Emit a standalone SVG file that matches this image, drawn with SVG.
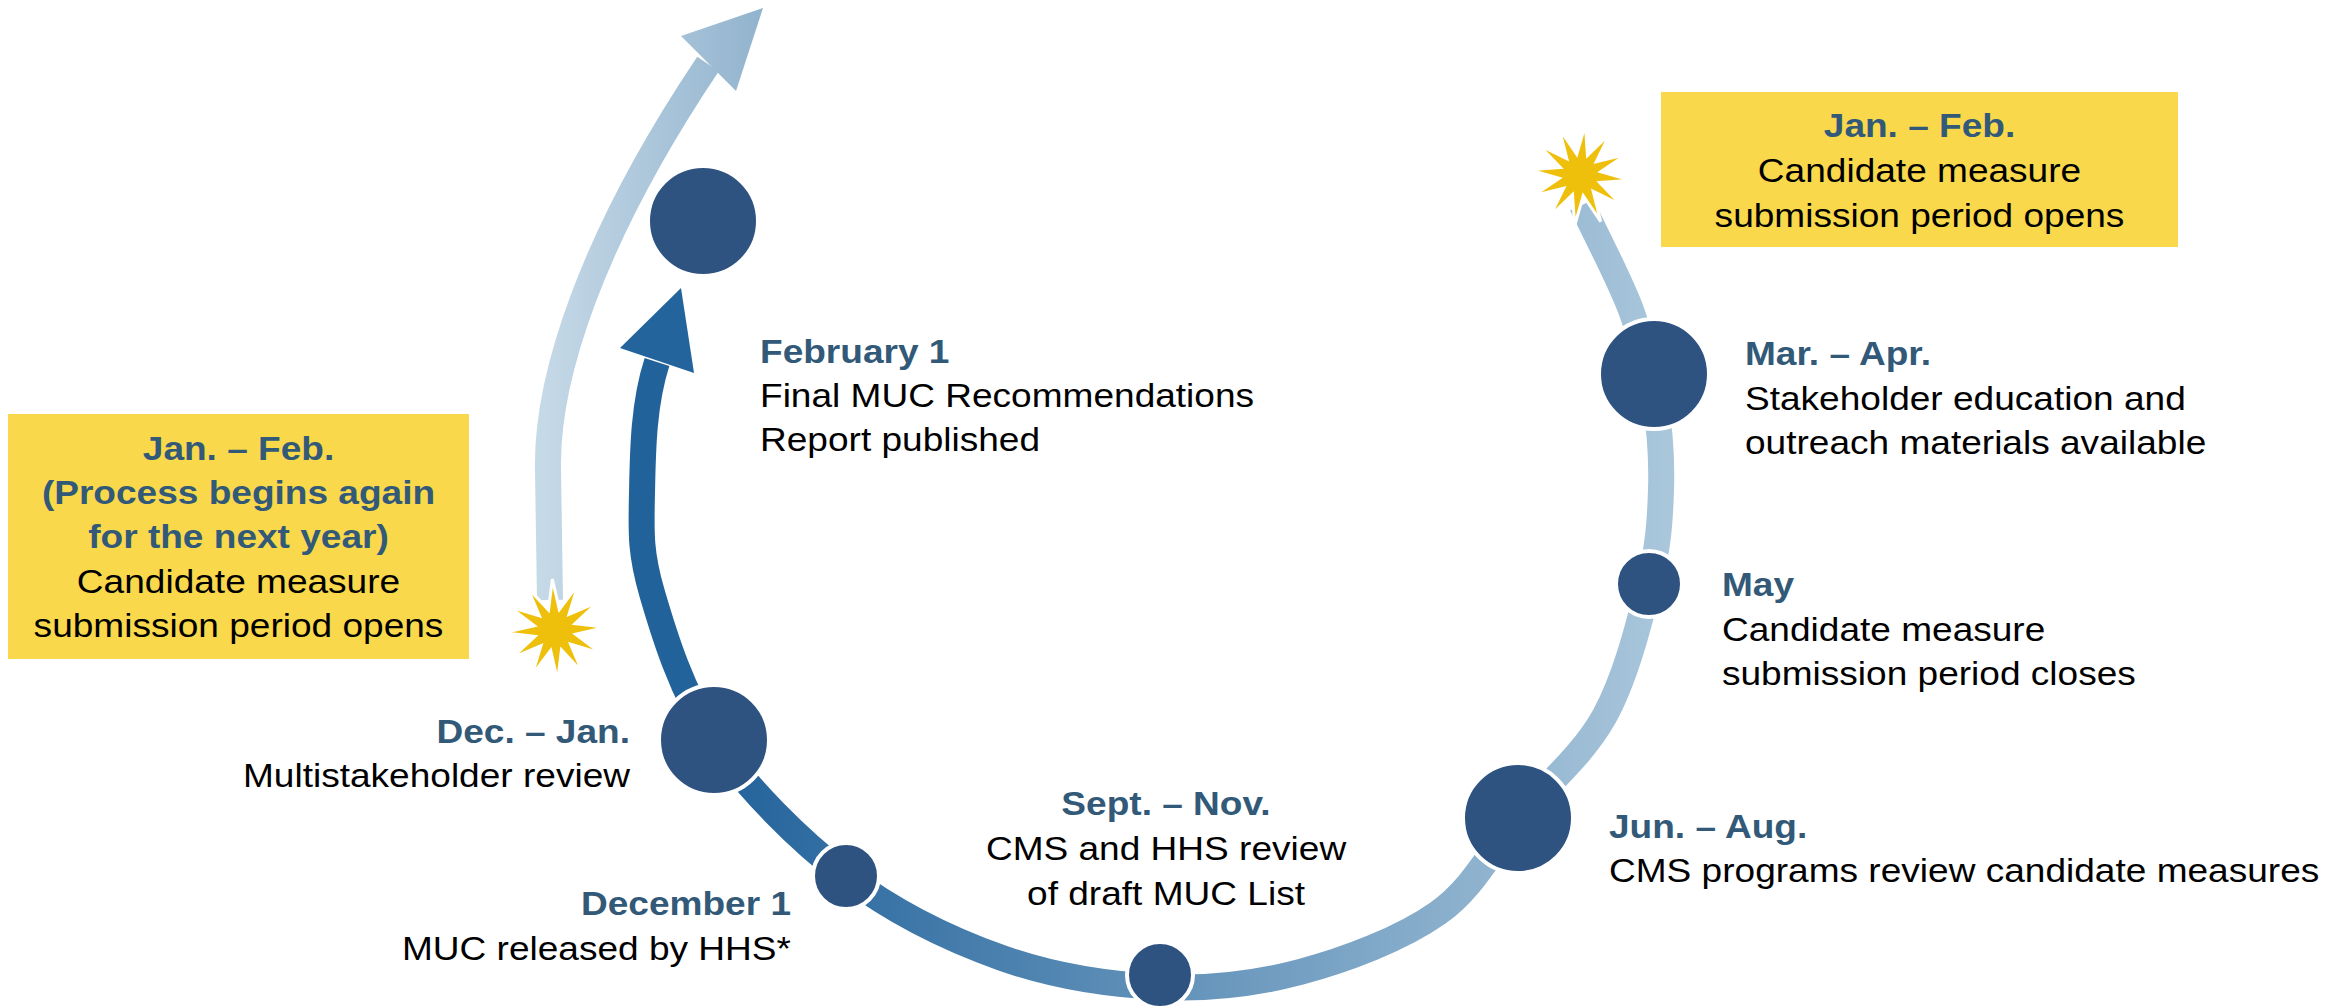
<svg xmlns="http://www.w3.org/2000/svg" width="2348" height="1008" viewBox="0 0 2348 1008">
<defs>
<linearGradient id="gMain" gradientUnits="userSpaceOnUse" x1="650" y1="0" x2="1665" y2="0">
<stop offset="0" stop-color="#22629b"/>
<stop offset="0.08" stop-color="#24649c"/>
<stop offset="1" stop-color="#a9c6db"/>
</linearGradient>
<linearGradient id="gLight" gradientUnits="userSpaceOnUse" x1="540" y1="0" x2="770" y2="0">
<stop offset="0" stop-color="#c6d9e7"/>
<stop offset="1" stop-color="#90b2cd"/>
</linearGradient>
<polygon id="star" points="0,-51 5.4,-20.3 25.5,-44.2 14.8,-14.8 44.2,-25.5 20.3,-5.4 51,0 20.3,5.4 44.2,25.5 14.8,14.8 25.5,44.2 5.4,20.3 0,51 -5.4,20.3 -25.5,44.2 -14.8,14.8 -44.2,25.5 -20.3,5.4 -51,0 -20.3,-5.4 -44.2,-25.5 -14.8,-14.8 -25.5,-44.2 -5.4,-20.3"/>
<style>
.h{font-family:"Liberation Sans",Arial,sans-serif;font-weight:bold;font-size:34px;fill:#325a78}
.b{font-family:"Liberation Sans",Arial,sans-serif;font-size:34px;fill:#000}
.dot{fill:#2f5380;stroke:#fff;stroke-width:4}
.box{fill:#f9d84b}
.burst{fill:#eec00b;stroke:#fff;stroke-width:3}
</style>
</defs>
<rect width="2348" height="1008" fill="#fff"/>
<g id="connectors">
<path id="main-arc" d="M 1582 205 C 1598.3 240, 1618.8 277.5, 1631 310 C 1643.2 342.5, 1650 370, 1655 400 C 1660 430, 1662 459.3, 1661 490 C 1660 520.7, 1658.5 546.2, 1649 584 C 1639.5 621.8, 1625.8 678, 1604 717 C 1582.2 756, 1545.7 785.3, 1518 818 C 1490.3 850.7, 1474.3 887.3, 1438 913 C 1401.7 938.7, 1346.3 959.7, 1300 972 C 1253.7 984.3, 1209.7 989.3, 1160 987 C 1110.3 984.7, 1054.3 976.5, 1002 958 C 949.7 939.5, 894 912.3, 846 876 C 798 839.7, 746.3 787.2, 714 740 C 681.7 692.8, 664 634.2, 652 593 C 640 551.8, 641.2 531.5, 642 493 C 642.8 454.5, 643 405, 657 362" fill="none" stroke="url(#gMain)" stroke-width="26"/>
<polygon id="main-head" points="681,288 694,373 620,348" fill="#24649c"/>
<path id="next-arc" d="M 550 600 L 548 470 C 546 380, 590 240, 708 64" fill="none" stroke="url(#gLight)" stroke-width="26"/>
<polygon id="next-head" points="763,8 681,36 736,91" fill="url(#gLight)"/>
</g>
<g id="burst-left"><use href="#star" class="burst" transform="translate(555,630) rotate(-3)"/></g>
<g id="burst-right"><use href="#star" class="burst" transform="translate(1580,175) rotate(6)"/></g>
<g id="box-next">
<rect class="box" x="8" y="414" width="461" height="245"/>
<g transform="translate(238.5,0) scale(1.09,1)" text-anchor="middle">
<text class="h" x="0" y="460">Jan. – Feb.</text>
<text class="h" x="0" y="504">(Process begins again</text>
<text class="h" x="0" y="548">for the next year)</text>
<text class="b" x="0" y="593">Candidate measure</text>
<text class="b" x="0" y="637">submission period opens</text>
</g>
</g>
<g id="box-open">
<rect class="box" x="1661" y="92" width="517" height="155"/>
<g transform="translate(1919.5,0) scale(1.09,1)" text-anchor="middle">
<text class="h" x="0" y="137">Jan. – Feb.</text>
<text class="b" x="0" y="182">Candidate measure</text>
<text class="b" x="0" y="227">submission period opens</text>
</g>
</g>
<g id="node-feb1">
<circle class="dot" cx="703" cy="221" r="55"/>
<g transform="translate(760,0) scale(1.09,1)">
<text class="h" x="0" y="363">February 1</text>
<text class="b" x="0" y="407">Final MUC Recommendations</text>
<text class="b" x="0" y="451">Report published</text>
</g>
</g>
<g id="node-marapr">
<circle class="dot" cx="1654" cy="374" r="55"/>
<g transform="translate(1745,0) scale(1.09,1)">
<text class="h" x="0" y="365">Mar. – Apr.</text>
<text class="b" x="0" y="410">Stakeholder education and</text>
<text class="b" x="0" y="454">outreach materials available</text>
</g>
</g>
<g id="node-may">
<circle class="dot" cx="1649" cy="584" r="33"/>
<g transform="translate(1722,0) scale(1.09,1)">
<text class="h" x="0" y="596">May</text>
<text class="b" x="0" y="641">Candidate measure</text>
<text class="b" x="0" y="685">submission period closes</text>
</g>
</g>
<g id="node-junaug">
<circle class="dot" cx="1518" cy="818" r="55"/>
<g transform="translate(1609,0) scale(1.09,1)">
<text class="h" x="0" y="838">Jun. – Aug.</text>
<text class="b" x="0" y="882">CMS programs review candidate measures</text>
</g>
</g>
<g id="node-septnov">
<circle class="dot" cx="1160" cy="975" r="33"/>
<g transform="translate(1166,0) scale(1.09,1)" text-anchor="middle">
<text class="h" x="0" y="815">Sept. – Nov.</text>
<text class="b" x="0" y="860">CMS and HHS review</text>
<text class="b" x="0" y="905">of draft MUC List</text>
</g>
</g>
<g id="node-dec1">
<circle class="dot" cx="846" cy="876" r="33"/>
<g transform="translate(791,0) scale(1.09,1)" text-anchor="end">
<text class="h" x="0" y="915">December 1</text>
<text class="b" x="0" y="960">MUC released by HHS*</text>
</g>
</g>
<g id="node-decjan">
<circle class="dot" cx="714" cy="740" r="55"/>
<g transform="translate(630,0) scale(1.09,1)" text-anchor="end">
<text class="h" x="0" y="743">Dec. – Jan.</text>
<text class="b" x="0" y="787">Multistakeholder review</text>
</g>
</g>
</svg>
